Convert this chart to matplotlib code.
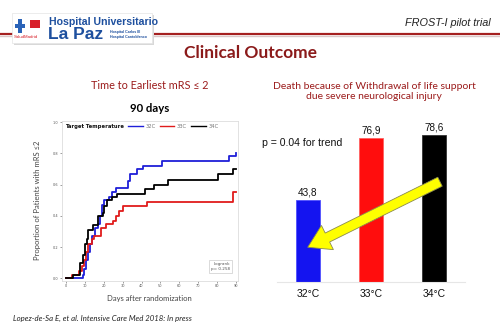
import matplotlib
matplotlib.use("Agg")
import matplotlib.pyplot as plt
import matplotlib.patches as mpatches
import matplotlib.transforms as mtransforms
from matplotlib.lines import Line2D

# ---------------- data ----------------
km_groups = ["32C", "33C", "34C"]
km_colors = ["#1f1fd8", "#e01b1b", "#000000"]
t_32 = [0, 9.0, 9.8, 10.7, 12.0, 12.8, 13.7, 15.5, 17.2, 18.1, 19.0, 20.2, 22.8, 24.3, 26.5, 33.0, 33.9, 37.8, 40.6, 50.6, 86.3, 89.6, 90.0]
p_32 = [0, 0.02, 0.06, 0.12, 0.17, 0.22, 0.27, 0.32, 0.35, 0.40, 0.47, 0.50, 0.52, 0.55, 0.58, 0.62, 0.67, 0.70, 0.72, 0.75, 0.78, 0.80, 0.80]
t_33 = [0, 3.2, 7.0, 8.4, 9.7, 10.7, 12.0, 13.7, 15.1, 18.6, 21.1, 24.8, 26.5, 28.3, 30.1, 43.1, 88.4, 90.0]
p_33 = [0, 0.02, 0.05, 0.08, 0.12, 0.17, 0.22, 0.25, 0.27, 0.32, 0.35, 0.37, 0.40, 0.43, 0.46, 0.49, 0.55, 0.55]
t_34 = [0, 4.0, 7.6, 9.3, 10.2, 11.1, 12.0, 14.6, 16.9, 19.5, 20.4, 21.6, 24.3, 27.2, 41.8, 46.6, 54.1, 80.5, 88.4, 90.0]
p_34 = [0, 0.02, 0.10, 0.15, 0.22, 0.25, 0.31, 0.34, 0.40, 0.42, 0.46, 0.50, 0.52, 0.54, 0.57, 0.60, 0.63, 0.67, 0.70, 0.70]
km_xticks = [0, 10, 20, 30, 40, 50, 60, 70, 80, 90]
km_yticks = [0.0, 0.2, 0.4, 0.6, 0.8, 1.0]

bar_labels = ["32°C", "33°C", "34°C"]
bar_values = [43.8, 76.9, 78.6]
bar_colors = ["#1414f0", "#ff0d0d", "#000000"]

W, H = 500, 333
fig = plt.figure(figsize=(5, 3.33), dpi=100)
fig.patch.set_facecolor("white")

def fx(px):
    return px / W

def fy(py):
    return 1 - py / H

DARKRED = "#9b1b1b"
BLUE = "#1d4f9e"

# ---------------- header ----------------
fig.add_artist(Line2D([0, 1], [fy(33.5), fy(33.5)], color="#a52020", lw=1.6, zorder=1))
fig.add_artist(Line2D([0, 1], [fy(35.5), fy(35.5)], color="#d9c8c8", lw=1.0, zorder=1))
# logo box (with faint shadow)
fig.add_artist(mpatches.Rectangle((fx(14), fy(45)), fx(140), 30 / H, transform=fig.transFigure,
                                  fc="#d8d8d8", ec="none", zorder=3))
fig.add_artist(mpatches.Rectangle((fx(12), fy(43)), fx(140), 30 / H, transform=fig.transFigure,
                                  fc="white", ec="#e4e4e4", lw=0.5, zorder=4))
fig.add_artist(mpatches.Rectangle((fx(18), fy(33)), fx(4), 14 / H, transform=fig.transFigure,
                                  fc="#2a63b8", ec="none", zorder=5))
fig.add_artist(mpatches.Rectangle((fx(15), fy(28)), fx(10), 4 / H, transform=fig.transFigure,
                                  fc="#2a63b8", ec="none", zorder=5))
fig.add_artist(mpatches.Rectangle((fx(30), fy(28)), fx(10), 8 / H, transform=fig.transFigure,
                                  fc="#d8202a", ec="none", zorder=5))
fig.text(fx(14), fy(37.5), "SaludMadrid", fontsize=3.2, color="#d8202a", family="Liberation Sans",
         va="center", zorder=6)
fig.text(fx(49), fy(22), "Hospital Universitario", fontsize=7.6, color=BLUE, weight="bold",
         family="Liberation Sans", va="center", zorder=6)
fig.text(fx(48), fy(34.5), "La Paz", fontsize=12.5, color=BLUE, weight="bold", family="Liberation Sans",
         va="center", zorder=6)
fig.text(fx(110), fy(34.5), "Hospital Carlos III\nHospital Cantoblanco", fontsize=2.6, color=BLUE,
         weight="bold", family="Liberation Sans", va="center", linespacing=1.1, zorder=6)

fig.text(fx(491), fy(23), "FROST-I pilot trial", fontsize=7.8, style="italic", family="Liberation Sans",
         ha="right", va="center", color="#222222")
fig.text(0.5, fy(53), "Clinical Outcome", fontsize=12.5, weight="bold", family="Lato", color="#8b1a1a",
         ha="center", va="center")

fig.text(fx(150), fy(86), "Time to Earliest mRS ≤ 2", fontsize=7.8, family="Lato", color=DARKRED,
         ha="center", va="center")
fig.text(fx(150), fy(108), "90 days", fontsize=8.2, weight="bold", family="Lato", color="black",
         ha="center", va="center")
fig.text(fx(374), fy(91.5), "Death because of Withdrawal of life support\ndue severe neurological injury",
         fontsize=7.5, family="Lato", color=DARKRED, ha="center", va="center", linespacing=1.25)
fig.text(fx(13), fy(318), "Lopez-de-Sa E, et al. Intensive Care Med 2018: In press", fontsize=5.6,
         style="italic", family="Lato", color="#222222", ha="left", va="center")

# ---------------- KM plot ----------------
ax = fig.add_axes([fx(61.7), fy(280.7), fx(238) - fx(61.7), fy(120.7) - fy(280.7)])
for t, p, c, g in zip([t_32, t_33, t_34], [p_32, p_33, p_34], km_colors, km_groups):
    ax.step(t, p, where="post", color=c, lw=1.3, label=g)
ax.set_xlim(-2.1, 90.9)
ax.set_ylim(-0.015, 1.009)
ax.set_xticks(km_xticks)
ax.set_yticks(km_yticks)
ax.set_xticklabels([str(v) for v in km_xticks])
ax.set_yticklabels([f"{v:.1f}" for v in km_yticks])
ax.tick_params(labelsize=2.5, length=1.2, width=0.4, colors="#555555", pad=1.5)
for s in ax.spines.values():
    s.set_color("#dddddd")
    s.set_linewidth(0.6)
ax.set_xlabel("Days after randomization", fontsize=5.5, family="Lato", color="#444444", labelpad=5)
ax.set_ylabel("Proportion of Patients with mRS ≤2", fontsize=5.5, family="Lato", color="#444444", labelpad=8)

ax.text(0.02, 0.964, "Target Temperature", transform=ax.transAxes, fontsize=3.8, weight="bold",
        ha="left", va="center", color="#111111")
handles = [Line2D([], [], color=c, lw=1.0) for c in km_colors]
leg = ax.legend(handles, km_groups, ncol=3, loc="center left", bbox_to_anchor=(0.375, 0.964), frameon=False,
                fontsize=3.8, handlelength=2.8, columnspacing=0.8, handletextpad=0.5, borderaxespad=0.0,
                borderpad=0.0)
for tx in leg.get_texts():
    tx.set_color("#777777")

ax.text(0.955, 0.09, "Logrank\np= 0.258", transform=ax.transAxes, fontsize=3.0, color="#555555",
        ha="right", va="center", linespacing=1.4,
        bbox=dict(boxstyle="square,pad=0.5", fc="white", ec="#cccccc", lw=0.5))

# ---------------- bar chart ----------------
bx = fig.add_axes([fx(277), fy(282), fx(465) - fx(277), fy(100) - fy(282)])
xpos = list(range(len(bar_values)))
bars = bx.bar(xpos, bar_values, width=0.38, color=bar_colors, edgecolor=["#5050ff", "#ff6060", "#333333"], lw=0.6)
bx.set_xlim(-0.49, 2.49)
bx.set_ylim(0, 97.3)
for b, v in zip(bars, bar_values):
    bx.text(b.get_x() + b.get_width() / 2, v + 1.2, f"{v:.1f}".replace(".", ","), ha="center", va="bottom",
            fontsize=7.2, family="Liberation Sans", color="#111111")
bx.set_xticks(xpos)
bx.set_xticklabels(bar_labels, fontsize=7.5, family="Liberation Sans", color="#111111")
bx.tick_params(axis="x", length=0, pad=5)
bx.set_yticks([])
for s in ["left", "right", "top"]:
    bx.spines[s].set_visible(False)
bx.spines["bottom"].set_color("#e6e6e6")
bx.spines["bottom"].set_linewidth(0.8)
bx.patch.set_alpha(0)

fig.text(fx(262), fy(143), "p = 0.04 for trend", fontsize=7.6, family="Liberation Sans", color="#111111",
         ha="left", va="center")

# yellow arrow (annotation)
ptrans = mtransforms.Affine2D().scale(1 / W, 1 / H) + fig.transFigure
arrow = mpatches.FancyArrow(440, H - 181.7, 307.7 - 440, (H - 247.3) - (H - 181.7), width=10,
                            head_width=27, head_length=22, length_includes_head=True,
                            fc="#ffff00", ec="#8a8a50", lw=0.6, transform=ptrans)
fig.add_artist(arrow)

fig.savefig("out.png", dpi=100, facecolor="white")
